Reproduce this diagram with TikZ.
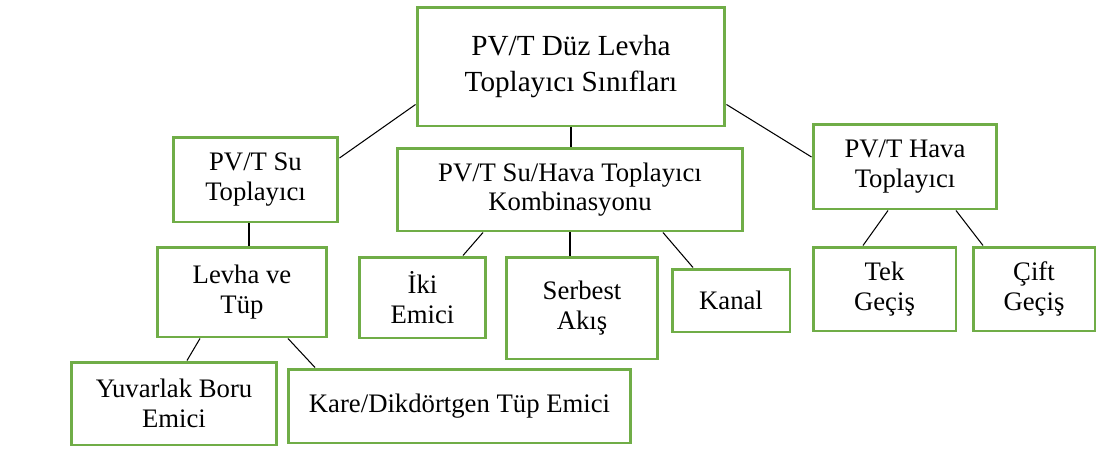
\documentclass[tikz,border=0pt]{standalone}
\usepackage{fontspec}
\setmainfont{Liberation Serif}
\usepackage{tikz}
\usetikzlibrary{positioning}

\definecolor{boxgreen}{RGB}{112,173,71}

\begin{document}
\begin{tikzpicture}[x=0.02cm,y=-0.02cm]

    \tikzstyle{box}=[rectangle,draw=boxgreen,line width=1.7pt,fill=white,align=center,inner sep=0pt,font=\fontsize{15.2}{16.8}\selectfont]
    \tikzstyle{main}=[box,font=\fontsize{16.6}{20.4}\selectfont]
    \tikzstyle{link}=[black,line width=0.6pt]

    \useasboundingbox (0,0) rectangle (1099,471);

    \begin{scope}
        \node [main] (top) at (571,66.5) [minimum width=6.16cm,minimum height=2.38cm] {PV/T Düz Levha\\Toplayıcı Sınıfları};
        \node [box] (su) at (255.5,179.5) [minimum width=3.3cm,minimum height=1.7cm] {PV/T Su\\Toplayıcı};
        \node [box] (suhava) at (570,189.5) [minimum width=6.92cm,minimum height=1.66cm] {PV/T Su/Hava Toplayıcı\\Kombinasyonu};
        \node [box] (hava) at (905,166.5) [minimum width=3.68cm,minimum height=1.7cm] {PV/T Hava\\Toplayıcı};
        \node [box] (levha) at (242,292) [minimum width=3.4cm,minimum height=1.8cm] {Levha ve\\Tüp};
        \node [box] (yuvarlak) at (174,403.5) [minimum width=4.12cm,minimum height=1.66cm] {Yuvarlak Boru\\Emici};
        \node [box] (kare) at (459.5,406) [minimum width=6.86cm,minimum height=1.48cm] {Kare/Dikdörtgen Tüp Emici};
        \node [box] (iki) at (422.5,297.5) [minimum width=2.54cm,minimum height=1.62cm] {İki\\Emici};
        \node [box] (serbest) at (582,308) [minimum width=3.04cm,minimum height=2.04cm] {Serbest\\Akış};
        \node [box] (kanal) at (731,300.5) [minimum width=2.36cm,minimum height=1.26cm] {Kanal};
        \node [box] (tek) at (884.5,289) [minimum width=2.86cm,minimum height=1.68cm] {Tek\\Geçiş};
        \node [box] (cift) at (1034,289) [minimum width=2.44cm,minimum height=1.68cm] {Çift\\Geçiş};
    \end{scope}

    \draw [link] ([yshift=0.46cm]top.south west) -- ([yshift=0.43cm]su.east);
    \draw [link] (top.south) -- (top.south |- suhava.north);
    \draw [link] ([yshift=0.46cm]top.south east) -- ([yshift=0.19cm]hava.west);
    \draw [link] ([xshift=-0.13cm]su.south) -- ([xshift=-0.13cm]su.south |- levha.north);
    \draw [link] ([xshift=-0.84cm]levha.south) -- ([xshift=0.26cm]yuvarlak.north);
    \draw [link] ([xshift=0.92cm]levha.south) -- ([xshift=-2.89cm]kare.north);
    \draw [link] ([xshift=-1.74cm]suhava.south) -- ([xshift=0.81cm]iki.north);
    \draw [link] (suhava.south) -- (suhava.south |- serbest.north);
    \draw [link] ([xshift=1.86cm]suhava.south) -- ([xshift=-0.76cm]kanal.north);
    \draw [link] ([xshift=-0.34cm]hava.south) -- ([xshift=-0.43cm]tek.north);
    \draw [link] ([xshift=1.02cm]hava.south) -- ([xshift=-1.02cm]cift.north);

\end{tikzpicture}
\end{document}
